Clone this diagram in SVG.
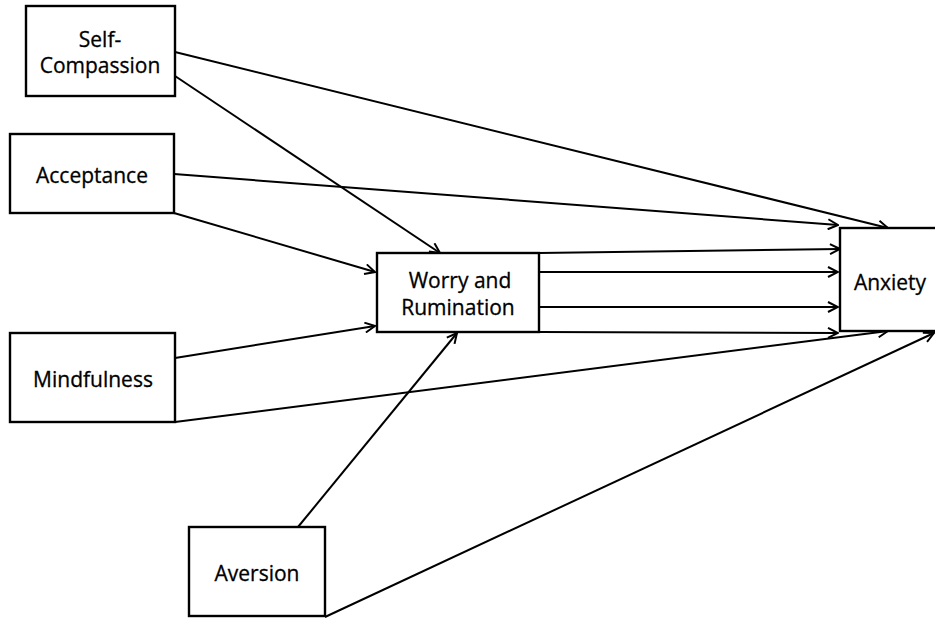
<svg xmlns="http://www.w3.org/2000/svg" width="935" height="618" viewBox="0 0 935 618">
  <style>
    .box { fill: #ffffff; stroke: #000000; stroke-width: 2.4; }
    .lbl { font-family: "Open Sans", "Liberation Sans", sans-serif; font-size: 21px; fill: #000000; stroke: #000000; stroke-width: 0.3; text-anchor: middle; }
    .edge { stroke: #000000; stroke-width: 2; fill: none; marker-end: url(#arrow); }
  </style>
  <defs>
    <marker id="arrow" markerUnits="userSpaceOnUse" viewBox="0 0 12 12" refX="11" refY="6" markerWidth="12" markerHeight="12" orient="auto">
      <path d="M1,1 L11,6 L1,11" fill="none" stroke="#000000" stroke-width="2"/>
    </marker>
  </defs>
  <rect width="935" height="618" fill="#ffffff"/>

  <g id="connectors">
    <line class="edge" x1="175" y1="52" x2="888" y2="228"/>
    <line class="edge" x1="175" y1="76" x2="440" y2="253"/>
    <line class="edge" x1="174" y1="174" x2="838" y2="225"/>
    <line class="edge" x1="174" y1="213" x2="375" y2="272"/>
    <line class="edge" x1="175" y1="358" x2="375" y2="326"/>
    <line class="edge" x1="175" y1="422" x2="888" y2="331"/>
    <line class="edge" x1="539" y1="253" x2="840" y2="249"/>
    <line class="edge" x1="539" y1="272" x2="838" y2="272"/>
    <line class="edge" x1="539" y1="307" x2="838" y2="307"/>
    <line class="edge" x1="539" y1="332" x2="838" y2="333"/>
    <line class="edge" x1="298" y1="527" x2="457" y2="333"/>
    <line class="edge" x1="325" y1="617" x2="934" y2="333"/>
  </g>

  <g id="self-compassion">
    <rect class="box" x="26" y="6" width="149" height="90"/>
    <text class="lbl" x="100" y="47">Self-</text>
    <text class="lbl" x="100" y="73">Compassion</text>
  </g>
  <g id="acceptance">
    <rect class="box" x="10" y="134" width="164" height="79"/>
    <text class="lbl" x="92" y="183">Acceptance</text>
  </g>
  <g id="mindfulness">
    <rect class="box" x="10" y="333" width="165" height="89"/>
    <text class="lbl" x="93" y="387">Mindfulness</text>
  </g>
  <g id="aversion">
    <rect class="box" x="189" y="527" width="136" height="89"/>
    <text class="lbl" x="257" y="581">Aversion</text>
  </g>
  <g id="worry-rumination">
    <rect class="box" x="377" y="253" width="162" height="79"/>
    <text class="lbl" x="460" y="288">Worry and</text>
    <text class="lbl" x="458" y="315">Rumination</text>
  </g>
  <g id="anxiety">
    <rect class="box" x="840" y="228" width="110" height="103"/>
    <text class="lbl" x="890" y="290">Anxiety</text>
  </g>
</svg>
